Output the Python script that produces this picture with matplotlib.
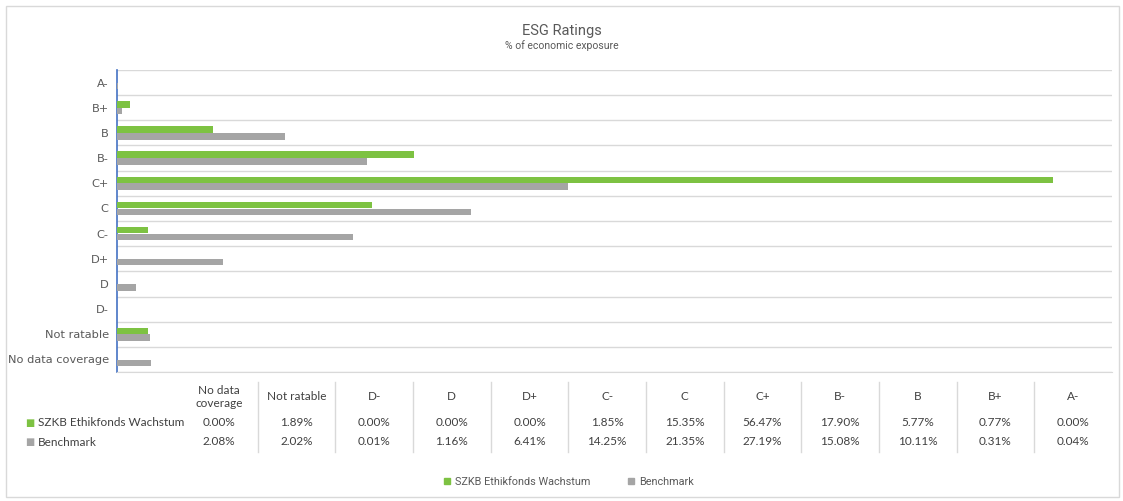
import matplotlib.pyplot as plt
from matplotlib.patches import Rectangle
from matplotlib.lines import Line2D

# ==============================================
# DATA

title = "ESG Ratings"
subtitle = "% of economic exposure"

ratings = ["No data coverage", "Not ratable", "D-", "D", "D+", "C-", "C", "C+", "B-", "B", "B+", "A-"]
table_headers = ["No data\ncoverage", "Not ratable", "D-", "D", "D+", "C-", "C", "C+", "B-", "B", "B+", "A-"]

series_names = ["SZKB Ethikfonds Wachstum", "Benchmark"]
fund = [0.00, 1.89, 0.00, 0.00, 0.00, 1.85, 15.35, 56.47, 17.90, 5.77, 0.77, 0.00]
bench = [2.08, 2.02, 0.01, 1.16, 6.41, 14.25, 21.35, 27.19, 15.08, 10.11, 0.31, 0.04]

green = "#7dc242"
grey = "#a5a5a5"
text_col = "#595959"
grid_col = "#d9d9d9"

W, H = 1123, 501


def fx(px):
    return px / W


def fy(py):
    return 1 - py / H


# ==============================================
# PLOT

fig = plt.figure(figsize=(W / 100, H / 100), dpi=100)

# outer frame
fig.add_artist(Rectangle((fx(6), fy(497)), fx(1119) - fx(6), fy(6) - fy(497),
                         transform=fig.transFigure, fill=False, edgecolor="#d9d9d9", lw=1))

fig.text(0.5, fy(31), title, ha="center", va="center", fontsize=10.5, color=text_col, family="Roboto")
fig.text(0.5, fy(46), subtitle, ha="center", va="center", fontsize=7.5, color=text_col, family="Roboto")

ax = fig.add_axes([fx(117), fy(372), fx(1112) - fx(117), fy(70) - fy(372)])

pos = list(range(len(ratings)))
h = 0.26
ax.barh([p + 0.135 for p in pos], fund, height=h, color=green, label=series_names[0], zorder=3)
ax.barh([p - 0.135 for p in pos], bench, height=h, color=grey, label=series_names[1], zorder=3)

ax.set_xlim(0, 60)
ax.set_ylim(-0.5, len(ratings) - 0.5)
ax.set_xticks([])
ax.set_yticks(pos)
ax.set_yticklabels(ratings, color=text_col, fontsize=8.2)
ax.tick_params(axis="y", length=0, pad=6)
ax.set_yticks([p - 0.5 for p in pos] + [len(ratings) - 0.5], minor=True)
ax.tick_params(axis="y", which="minor", length=0)
ax.grid(axis="y", which="minor", color=grid_col, lw=1, zorder=0)

for s in ["top", "right"]:
    ax.spines[s].set_visible(False)
ax.spines["bottom"].set_color(grid_col)
ax.spines["left"].set_color("#4472c4")
ax.spines["left"].set_linewidth(1.2)

# data table below the chart
tax = fig.add_axes([fx(180), fy(455), fx(1112) - fx(180), fy(380) - fy(455)])
tax.set_xlim(0, len(ratings))
tax.set_ylim(455, 380)
tax.axis("off")

tfont = dict(fontsize=8.5, color="#404040", family="Lato", ha="center", va="center")
for i, (lab, f, b) in enumerate(zip(table_headers, fund, bench)):
    tax.text(i + 0.5, 397, lab, linespacing=1.3, **tfont)
    tax.text(i + 0.5, 423, f"{f:.2f}%", **tfont)
    tax.text(i + 0.5, 442, f"{b:.2f}%", **tfont)
    if i > 0:
        tax.plot([i, i], [382, 452], color=grid_col, lw=1)

for name, col, py in zip(series_names, [green, grey], [423, 442]):
    fig.text(fx(25), fy(py), "■", color=col, fontsize=7, ha="left", va="center")
    fig.text(fx(38), fy(py), name, color="#404040", fontsize=8.5, family="Lato", ha="left", va="center")

handles = [Line2D([], [], marker="s", ls="", color=green, markersize=5),
           Line2D([], [], marker="s", ls="", color=grey, markersize=5)]
leg = fig.legend(handles, series_names, loc="center", bbox_to_anchor=(0.503, fy(482)), ncol=2,
                 frameon=False, prop={"family": "Roboto", "size": 7.8},
                 handletextpad=-0.3, columnspacing=2.8)
for t in leg.get_texts():
    t.set_color(text_col)

plt.savefig("out.png", dpi=100)
